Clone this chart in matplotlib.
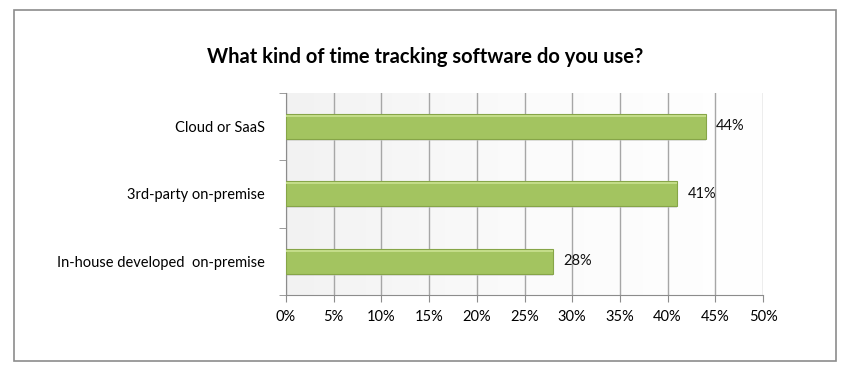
import numpy as np
import matplotlib.pyplot as plt
from matplotlib.patches import Rectangle
from matplotlib.colors import LinearSegmentedColormap

categories = ['In-house developed  on-premise', '3rd-party on-premise', 'Cloud or SaaS']
values = [28, 41, 44]
xticks = [0, 5, 10, 15, 20, 25, 30, 35, 40, 45, 50]

plt.rcParams['font.family'] = ['Lato', 'DejaVu Sans']

fig = plt.figure(figsize=(8.5, 3.73), dpi=100)
fig.patches.append(Rectangle((14 / 850, 1 - 361 / 373), 822 / 850, 351 / 373,
                             transform=fig.transFigure, fill=False,
                             edgecolor='#8c8c8c', linewidth=1.2))

ax = fig.add_axes([286 / 850, 1 - 295 / 373, 477 / 850, 202.5 / 373])

# light gradient background
bg = LinearSegmentedColormap.from_list('bg', ['#f2f2f2', '#fbfbfb', '#ffffff'])
grad = np.linspace(0, 1, 256).reshape(1, -1)
ax.imshow(grad, extent=[0, 50, -0.5, 2.5], aspect='auto', cmap=bg, zorder=0)

y = np.arange(len(categories))
ax.barh(y - 0.03, values, height=0.37, color='#c8c8c8', alpha=0.5, linewidth=0, zorder=2)
ax.barh(y, values, height=0.37, color='#a3c460', edgecolor='#86a548',
        linewidth=0.8, zorder=3)
ax.barh(y + 0.155, values, height=0.035, color='#c3dc88', linewidth=0, zorder=4)

for yi, v in zip(y, values):
    ax.text(v + 1.1, yi, f'{v}%', va='center', ha='left', fontsize=10.5, color='#111111')

ax.set_xlim(0, 50)
ax.set_ylim(-0.5, 2.5)
ax.set_xticks(xticks)
ax.set_xticklabels([f'{t}%' for t in xticks], fontsize=10.5)
ax.set_yticks(y)
ax.set_yticklabels(categories, fontsize=10.5)
ax.set_yticks([-0.5, 0.5, 1.5, 2.5], minor=True)
ax.tick_params(axis='y', which='major', length=0, pad=15)
ax.tick_params(axis='y', which='minor', length=5, color='#8c8c8c', direction='out')
ax.tick_params(axis='x', length=5, color='#8c8c8c', direction='out', pad=6)

ax.grid(axis='x', color='#a6a6a6', linewidth=1, zorder=1)
ax.set_axisbelow(True)
for s in ['top', 'right']:
    ax.spines[s].set_visible(False)
for s in ['left', 'bottom']:
    ax.spines[s].set_color('#8c8c8c')

fig.text(425 / 850, 1 - 57 / 373, 'What kind of time tracking software do you use?',
         ha='center', va='center', fontsize=14.5, fontweight='bold')

fig.savefig('out.png', dpi=100)
